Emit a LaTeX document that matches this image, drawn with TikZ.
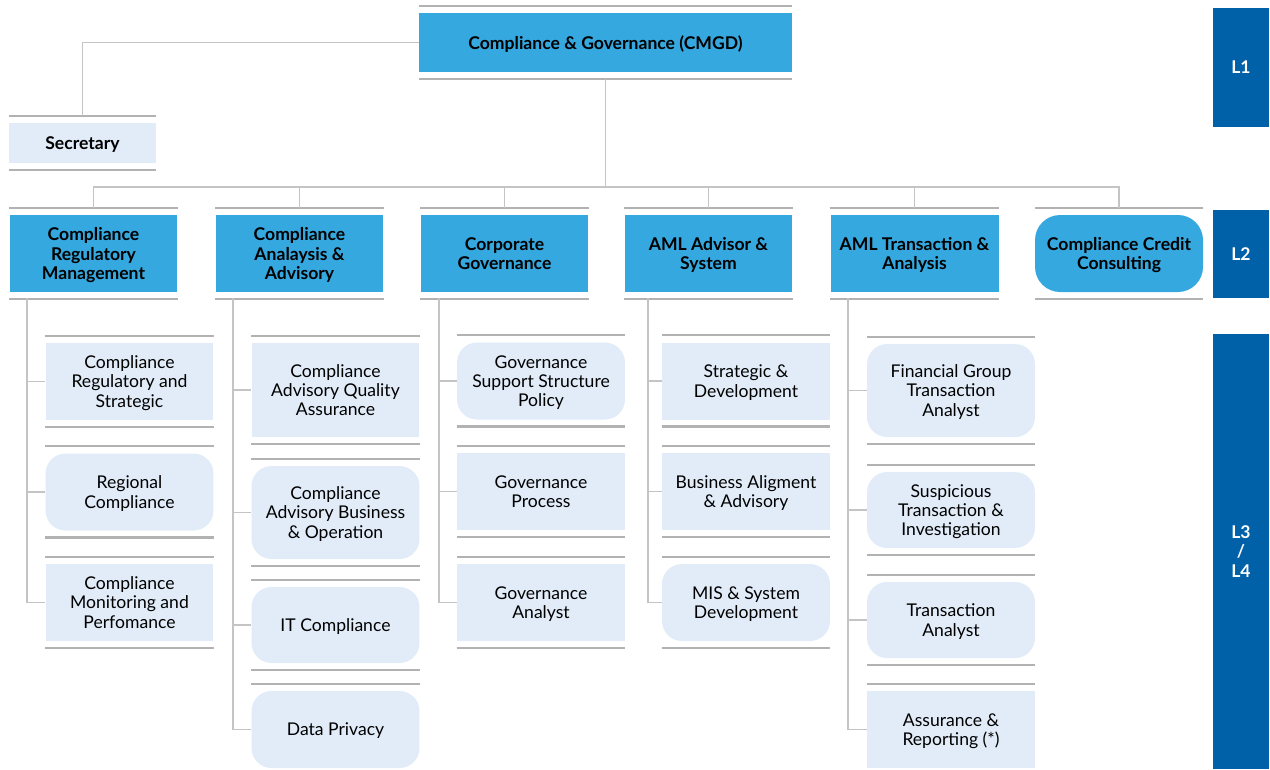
\documentclass[tikz,border=0pt]{standalone}
\usepackage{fontspec}
\setmainfont{Lato}
\usepackage{tikz}
\definecolor{cmgdblue}{RGB}{53,168,224}
\definecolor{cmgdpale}{RGB}{225,236,248}
\definecolor{cmgdnavy}{RGB}{0,96,168}
\definecolor{cmgdbar}{RGB}{178,178,178}
\definecolor{cmgdlink}{RGB}{196,196,196}

\begin{document}
\begin{tikzpicture}[x=0.02cm, y=-0.02cm,
  every node/.style={font=\fontsize{10}{11}\selectfont, align=center, inner sep=0pt,
    text depth=-1.6pt},
  head/.style={fill=cmgdblue, minimum width=3.36cm, minimum height=1.54cm,
    font=\bfseries\fontsize{10}{11}\selectfont},
  unit/.style={fill=cmgdpale, minimum width=3.36cm, minimum height=1.54cm},
  soft/.style={rounded corners=0.4cm},
  badge/.style={fill=cmgdnavy, text=white, minimum width=1.12cm,
    font=\bfseries\fontsize{10}{11.3}\selectfont},
  bar/.style={cmgdbar, line width=1.3pt},
  link/.style={cmgdlink, line width=0.75pt}]
  \useasboundingbox (0,0) rectangle (1270,769);
  % Level badges
  \node[badge, minimum height=2.38cm] (l1) at (1241,67.5) {L1};
  \node[badge, minimum height=1.76cm] (l2) at (1241,254) {L2};
  \node[badge, minimum height=8.7cm, text depth=-8pt] (l34) at (1241,551.5) {L3\\/\\L4};
  % L1 and secretary
  \node[head, minimum width=7.46cm, minimum height=1.18cm] (cmgd) at (605.5,42.5)
    {Compliance \& Governance (CMGD)};
  \node[unit, font=\bfseries\fontsize{10}{11}\selectfont,
    minimum width=2.94cm, minimum height=0.8cm] (sec) at (82.5,143) {Secretary};
  % L2 units
  \node[head] (crm) at (93.5,253.5) {Compliance\\Regulatory\\Management};
  \node[head] (caa) at (299.5,253.5) {Compliance\\Analaysis \&\\Advisory};
  \node[head] (cg)  at (504.5,253.5) {Corporate\\Governance};
  \node[head] (aas) at (708.5,253.5) {AML Advisor \&\\System};
  \node[head] (ata) at (914.5,253.5) {AML Transaction \&\\Analysis};
  \node[head, rounded corners=0.5cm] (ccc) at (1119,253.5) {Compliance Credit\\Consulting};
  % L3 / L4 -- regulatory management
  \node[unit] (crs) at (129.5,381.5) {Compliance\\Regulatory and\\Strategic};
  \node[unit, soft] (rgc) at (129.5,492) {Regional\\Compliance};
  \node[unit] (cmp) at (129.5,602.5) {Compliance\\Monitoring and\\Perfomance};
  % analysis & advisory
  \node[unit, minimum height=1.88cm] (caq) at (335.5,390) {Compliance\\Advisory Quality\\Assurance};
  \node[unit, soft, minimum height=1.86cm] (cab) at (335.5,512.5) {Compliance\\Advisory Business\\\& Operation};
  \node[unit, soft, minimum height=1.52cm] (itc) at (335.5,625) {IT Compliance};
  \node[unit, soft] (dpr) at (335.5,729.5) {Data Privacy};
  % corporate governance
  \node[unit, soft] (gss) at (541,381) {Governance\\Support Structure\\Policy};
  \node[unit] (gpr) at (541,491.5) {Governance\\Process};
  \node[unit] (gan) at (541,602.5) {Governance\\Analyst};
  % AML advisor
  \node[unit] (sdv) at (746,381) {Strategic \&\\Development};
  \node[unit] (bal) at (746,491.5) {Business Aligment\\\& Advisory};
  \node[unit, soft] (mis) at (746,602.5) {MIS \& System\\Development};
  % AML transaction
  \node[unit, soft, minimum height=1.86cm] (fgt) at (951,390.5) {Financial Group\\Transaction\\Analyst};
  \node[unit, soft, minimum height=1.52cm] (stv) at (951,510) {Suspicious\\Transaction \&\\Investigation};
  \node[unit, soft, minimum height=1.52cm] (tan) at (951,620) {Transaction\\Analyst};
  \node[unit] (arp) at (951,729.5) {Assurance \&\\Reporting (*)};
  % grey bars above and below every box
  \foreach \n in {cmgd,sec,crm,caa,cg,aas,ata,ccc,crs,rgc,cmp,caq,cab,itc,dpr,
                  gss,gpr,gan,sdv,bal,mis,fgt,stv,tan,arp}
    \draw[bar] ([yshift=0.14cm]\n.north west) -- ([yshift=0.14cm]\n.north east)
               ([yshift=-0.13cm]\n.south west) -- ([yshift=-0.13cm]\n.south east);
  % top connectors
  \coordinate (bus) at (605.5,187);
  \draw[link] (cmgd.west) -| ([yshift=0.14cm]sec.north);
  \draw[link] ([yshift=-0.13cm]cmgd.south) -- (bus);
  \foreach \n in {crm,caa,cg,aas,ata,ccc}
    \draw[link] (bus) -| ([yshift=0.14cm]\n.north);
  % spines down to L3 / L4
  \coordinate (s1) at (27,298);
  \coordinate (s2) at (233,298);
  \coordinate (s3) at (439,298);
  \coordinate (s4) at (648,298);
  \coordinate (s5) at (848,298);
  \foreach \n in {crs,rgc,cmp} \draw[link] (s1) |- (\n.west);
  \foreach \n in {caq,cab,itc,dpr} \draw[link] (s2) |- (\n.west);
  \foreach \n in {gss,gpr,gan} \draw[link] (s3) |- (\n.west);
  \foreach \n in {sdv,bal,mis} \draw[link] (s4) |- (\n.west);
  \foreach \n in {fgt,stv,tan,arp} \draw[link] (s5) |- (\n.west);
\end{tikzpicture}
\end{document}
